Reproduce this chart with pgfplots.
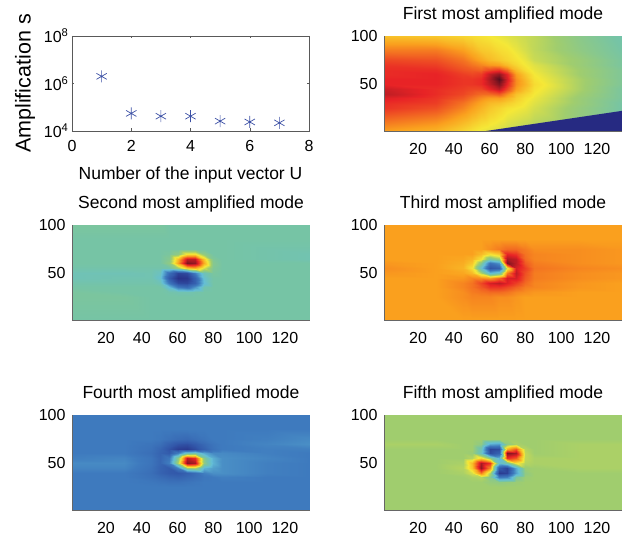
\documentclass[border=0pt]{standalone}
\usepackage{fontspec}
\setmainfont{Liberation Sans}
\usepackage{pgfplots}
\usepackage{pgfplotstable}
\pgfplotsset{compat=1.18}
\definecolor{starblue}{RGB}{60,80,165}
\definecolor{wedge}{RGB}{38,42,130}
\pgfplotstableread{
x y a b c d e
1 1 72 45 72 23 53
30 1 69 45 72 23 53
45 1 64 45 72 23 53
50 1 62 45 72 23 53
55 1 60 45 72 23 53
60 1 59 45 72 23 53
65 1 58 45 72 23 53
70 1 57 45 72 23 53
75 1 56 45 72 23 53
80 1 55 45 72 23 53
85 1 54 45 72 23 53
110 1 50 45 72 23 53
134 1 46 45 72 23 53
1 25 84 46 72 23 53
30 25 81 46 72 23 53
45 25 75 45 74 23 53
50 25 72 45 75 23 53
55 25 69 45 75 23 53
60 25 66 45 75 23 53
65 25 64 45 74 23 53
70 25 62 45 74 23 53
75 25 61 45 73 23 53
80 25 60 45 72 23 53
85 25 58 45 72 23 53
110 25 51 45 72 23 53
134 25 45 45 72 23 53
1 30 85 46 72 23 53
30 30 83 45 72 23 53
45 30 77 45 74 22 53
50 30 74 45 76 21 53
55 30 71 44 77 20 53
60 30 68 43 78 20 51
65 30 67 43 78 21 50
70 30 65 44 77 22 51
75 30 63 45 75 23 52
80 30 61 45 74 23 53
85 30 59 45 73 23 53
110 30 52 45 72 23 53
134 30 45 45 72 23 53
1 35 87 45 72 23 53
30 35 84 45 72 23 53
45 35 80 45 75 20 53
50 35 77 45 77 18 54
55 35 74 36 80 16 55
60 35 72 22 84 15 48
65 35 72 18 84 17 22
70 35 69 28 82 19 24
75 35 65 43 79 22 46
80 35 62 45 76 23 52
85 35 60 45 75 24 53
110 35 52 45 73 23 53
134 35 46 45 72 23 53
1 40 90 44 72 23 53
30 40 85 44 72 23 53
45 40 82 44 75 19 54
50 40 80 42 77 15 58
55 40 78 22 82 12 76
60 40 78 8 88 11 54
65 40 80 7 90 14 4
70 40 74 14 87 18 6
75 40 67 36 83 24 30
80 40 64 45 78 27 50
85 40 61 45 75 27 53
110 40 53 45 73 24 53
134 40 46 45 72 23 53
1 45 89 42 72 25 53
30 45 85 43 72 25 53
45 45 83 43 73 20 55
50 45 82 38 75 15 66
55 45 82 12 74 12 94
60 45 86 2 72 24 74
65 45 90 3 78 52 12
70 45 82 14 88 54 6
75 45 72 38 88 34 32
80 45 67 45 80 30 52
85 45 62 45 76 27 53
110 45 54 45 74 24 54
134 45 46 45 73 23 54
1 50 86 42 73 26 53
30 50 86 42 72 26 53
45 50 84 43 71 21 54
50 50 84 40 68 16 68
55 50 85 18 55 24 92
60 50 90 6 36 55 84
65 50 96 8 42 95 38
70 50 86 24 76 92 44
75 50 74 42 90 50 62
80 50 69 46 81 34 55
85 50 63 45 76 27 54
110 50 54 45 74 24 54
134 50 47 45 73 23 54
1 55 86 44 74 24 53
30 55 86 44 72 25 53
45 55 84 44 69 21 53
50 55 84 44 62 16 55
55 55 85 44 38 22 64
60 55 92 52 10 50 50
65 55 100 66 14 90 34
70 55 88 70 60 85 85
75 55 74 58 88 48 80
80 55 68 47 83 33 56
85 55 62 45 77 27 54
110 55 54 45 75 25 54
134 55 47 45 74 23 54
1 60 85 45 73 23 53
30 60 86 45 72 23 53
45 60 83 45 70 19 53
50 60 82 45 66 15 52
55 60 83 50 48 12 40
60 60 90 72 20 24 8
65 60 94 96 28 42 14
70 60 86 94 96 44 96
75 60 72 70 90 32 92
80 60 66 48 80 26 56
85 60 61 45 76 26 53
110 60 53 45 74 24 54
134 60 47 45 73 23 54
1 65 85 45 72 23 53
30 65 85 45 72 23 53
45 65 81 45 71 20 53
50 65 80 45 69 16 53
55 65 79 48 62 10 42
60 65 82 68 46 5 6
65 65 84 90 52 4 8
70 65 78 90 92 8 70
75 65 68 66 90 14 80
80 65 63 47 78 20 55
85 65 60 45 75 23 53
110 65 53 44 74 24 54
134 65 47 43 73 24 54
1 70 84 45 72 23 54
30 70 83 45 72 23 54
45 70 79 45 72 21 53
50 70 77 45 72 19 53
55 70 75 46 68 14 50
60 70 73 50 62 10 32
65 70 72 62 66 9 30
70 70 68 62 86 12 50
75 70 64 50 84 17 54
80 70 61 45 77 21 53
85 70 59 45 75 23 53
110 70 52 44 74 25 54
134 70 46 43 73 27 54
1 75 82 45 72 23 53
30 75 81 45 72 23 53
45 75 77 45 72 23 53
50 75 74 45 72 22 53
55 75 71 45 72 20 53
60 75 68 45 74 18 53
65 75 66 45 76 17 53
70 75 64 45 78 19 53
75 75 62 45 78 21 53
80 75 60 45 76 23 53
85 75 57 45 74 23 53
110 75 52 44 74 24 53
134 75 46 44 73 26 53
1 85 76 45 72 23 53
30 85 76 45 72 23 53
45 85 72 45 72 23 53
50 85 69 45 72 23 53
55 85 66 45 72 23 53
60 85 65 45 72 23 53
65 85 63 45 72 23 53
70 85 62 45 72 23 53
75 85 60 45 72 23 53
80 85 58 45 72 23 53
85 85 56 45 72 23 53
110 85 50 45 72 23 53
134 85 45 45 72 23 53
1 100 67 46 72 23 53
30 100 66 46 72 23 53
45 100 64 46 72 23 53
50 100 63 46 72 23 53
55 100 62 45 72 23 53
60 100 61 45 72 23 53
65 100 60 45 72 23 53
70 100 59 45 72 23 53
75 100 58 45 72 23 53
80 100 57 45 72 23 53
85 100 56 45 72 23 53
110 100 49 45 72 23 53
134 100 44 45 72 23 53
}\modes
\pgfplotsset{
  every axis/.append style={
    scale only axis, anchor=south west, width=238pt, height=95pt,
    tick label style={font=\fontsize{16}{19}\selectfont},
    label style={font=\fontsize{17.5}{20}\selectfont},
    title style={font=\fontsize{17.5}{20}\selectfont, yshift=3pt},
    /pgf/number format/assume math mode=true,
    axis line style={black!65},
    tick style={black!65},
  },
  heat/.style={
    view={0}{90}, xmin=1, xmax=134, ymin=1, ymax=100,
    xtick={20,40,60,80,100,120}, ytick={50,100},
    major tick length=0pt,
    axis lines*=left, axis line style={-, black!60},
    xticklabel style={yshift=-9pt}, yticklabel style={xshift=-3pt},
    colormap={paper}{
      rgb255(0)=(38,42,130) rgb255(11)=(50,88,170) rgb255(23)=(62,122,190)
      rgb255(36)=(100,190,215) rgb255(45)=(118,196,165) rgb255(53)=(160,205,110)
      rgb255(61)=(245,232,55) rgb255(72)=(250,160,30) rgb255(86)=(232,35,38)
      rgb255(100)=(85,15,30)
    },
    point meta min=0, point meta max=100,
  },
  hm/.style={surf, shader=interp, mesh/rows=14, mesh/cols=13},
}
\begin{document}
\begin{tikzpicture}
\path (0pt,0pt) rectangle (632pt,540pt);
\begin{axis}[at={(72pt,409pt)}, width=237pt, xmin=0, xmax=8, ymode=log, ymin=1e4, ymax=1e8,
  xtick={0,2,4,6,8}, ytick={1e4,1e6,1e8},
  yticklabels={10\textsuperscript{4},10\textsuperscript{6},10\textsuperscript{8}},
  log ticks with fixed point=false, minor tick length=0pt, major tick length=2.5pt,
  tick align=inside, xticklabel style={yshift=-6pt},
  xlabel={Number of the input vector U}, ylabel={Amplification s},
  xlabel style={yshift=-8pt}, ylabel style={yshift=2pt, font=\fontsize{21.5}{24}\selectfont}]
\addplot[only marks, mark=asterisk, mark size=6pt, mark options={starblue, line width=.7pt}]
 coordinates {(1,2e6)(2,5.5e4)(3,4.2e4)(4,4.2e4)(5,2.6e4)(6,2.4e4)(7,2.2e4)};
\end{axis}
\begin{axis}[heat, at={(384pt,409pt)}, title={First most amplified mode}]
\addplot3[hm] table[x=x,y=y,z=a] {\modes};
\addplot3[fill=wedge, draw=none] coordinates {(58,1,0)(134,22,0)(134,1,0)};
\end{axis}
\begin{axis}[heat, at={(72pt,220pt)}, title={Second most amplified mode}]
\addplot3[hm] table[x=x,y=y,z=b] {\modes};
\end{axis}
\begin{axis}[heat, at={(384pt,220pt)}, title={Third most amplified mode}]
\addplot3[hm] table[x=x,y=y,z=c] {\modes};
\end{axis}
\begin{axis}[heat, at={(72pt,30pt)}, title={Fourth most amplified mode}]
\addplot3[hm] table[x=x,y=y,z=d] {\modes};
\end{axis}
\begin{axis}[heat, at={(384pt,30pt)}, title={Fifth most amplified mode}]
\addplot3[hm] table[x=x,y=y,z=e] {\modes};
\end{axis}
\end{tikzpicture}
\end{document}
